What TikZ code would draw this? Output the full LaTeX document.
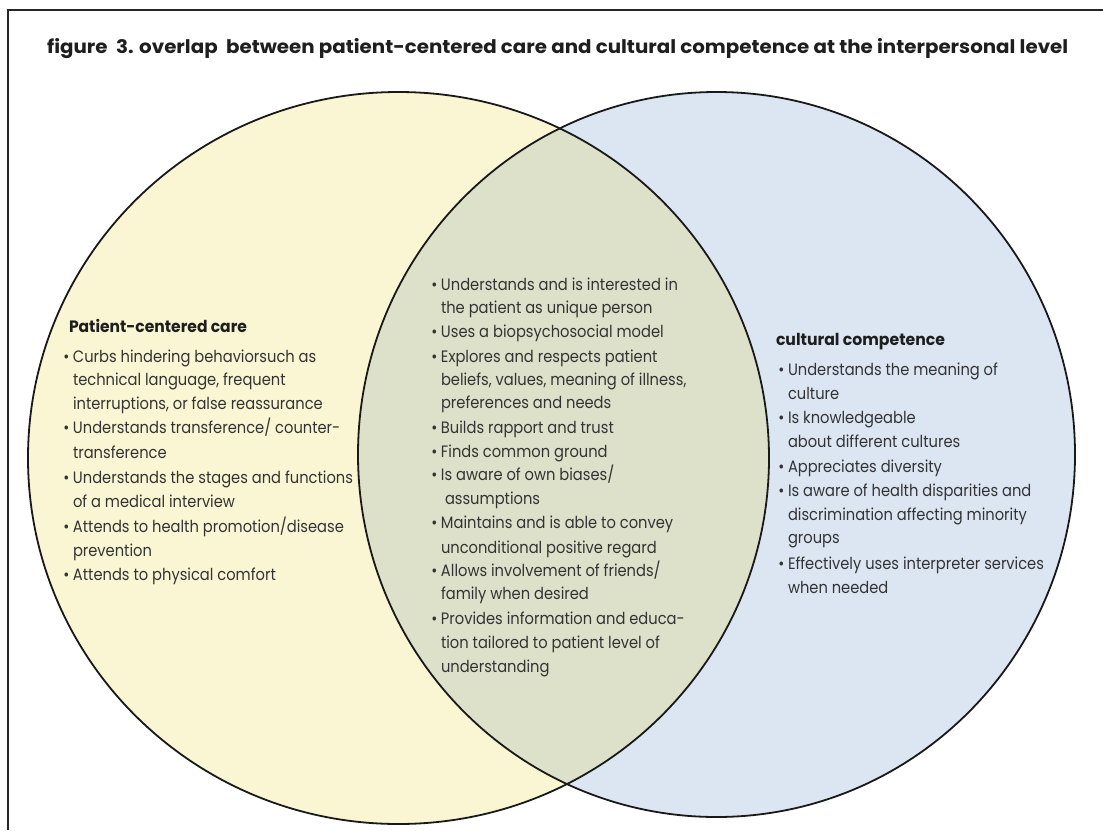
\documentclass[tikz,border=0pt]{standalone}
\usepackage{fontspec}
\setmainfont{Poppins}
\usepackage{graphicx}
\definecolor{pccfill}{HTML}{FAF6D3}
\definecolor{ccfill}{HTML}{DCE6F3}
\definecolor{lensfill}{HTML}{DDE1CA}
\definecolor{textgray}{HTML}{333333}
\definecolor{titlegray}{HTML}{1E1E1E}
\newcommand\bodyfont{\fontsize{16.5}{24}\selectfont}
\newcommand\bul{\llap{\textbullet\hspace{4pt}}}
\newlength\reflen
\newcommand\bodyline[1]{\scalebox{\sx}[1]{#1}}
\begin{document}
\settowidth{\reflen}{\bodyfont Effectively uses interpreter services}%
\pgfmathsetmacro\sx{256/\reflen}%
\begin{tikzpicture}[x=1pt,y=-1pt,
  txt/.style={anchor=base west, inner sep=0pt, outer sep=0pt, text=textgray, font=\bodyfont},
  head/.style={anchor=base west, inner sep=0pt, outer sep=0pt, text=titlegray, font=\bodyfont\bfseries},
  outline/.style={draw=black!90, line width=1.8pt},
  frameline/.style={draw=black!85, line width=2pt}]
\useasboundingbox (0,0) rectangle (1103,830);
% frame
\coordinate (f1) at (8,830);
\coordinate (f2) at (8,10);
\coordinate (f3) at (1103,10);
\draw[frameline] (f1) -- (f2) -- (f3);
% ellipses
\coordinate (lc) at (398.5,458);
\coordinate (rc) at (716.5,454.5);
\fill[pccfill] (lc) ellipse [x radius=370.5, y radius=366];
\fill[ccfill] (rc) ellipse [x radius=358.5, y radius=362.5];
\begin{scope}
\clip (lc) ellipse [x radius=370.5, y radius=366];
\fill[lensfill] (rc) ellipse [x radius=358.5, y radius=362.5];
\end{scope}
\draw[outline] (lc) ellipse [x radius=370.5, y radius=366];
\draw[outline] (rc) ellipse [x radius=358.5, y radius=362.5];
% title
\node[anchor=base west, inner sep=0pt, text=titlegray] (title) at (47,53)
  {\resizebox{1021pt}{15pt}{\bfseries figure\ \ 3. overlap\ \ between patient-centered care and cultural competence at the interpersonal level}};
% left
\node[head] (lh) at (69,332) {\resizebox{178pt}{\height}{Patient-centered care}};
\foreach \t/\yy [count=\i] in {
  {\bul Curbs hindering behaviorsuch as}/362,
  {technical language, frequent}/385,
  {interruptions, or false reassurance}/409,
  {\bul Understands transference/ counter-}/433,
  {transference}/458,
  {\bul Understands the stages and functions}/483,
  {of a medical interview}/507,
  {\bul Attends to health promotion/disease}/532,
  {prevention}/556,
  {\bul Attends to physical comfort}/580}
  \node[txt] (L\i) at (73,\yy) {\bodyline{\t}};
% middle
\foreach \t/\xx/\yy [count=\i] in {
  {\bul Understands and is interested in}/441/290,
  {the patient as unique person}/441/313,
  {\bul Uses a biopsychosocial model}/441/337,
  {\bul Explores and respects patient}/441/362,
  {beliefs, values, meaning of illness,}/441/385,
  {preferences and needs}/441/408,
  {\bul Builds rapport and trust}/441/433,
  {\bul Finds common ground}/441/457,
  {\bul Is aware of own biases/}/441/480,
  {assumptions}/445/504,
  {\bul Maintains and is able to convey}/441/528,
  {unconditional positive regard}/441/553,
  {\bul Allows involvement of friends/}/441/576,
  {family when desired}/441/599,
  {\bul Provides information and educa-}/441/624,
  {tion tailored to patient level of}/441/648,
  {understanding}/441/672}
  \node[txt] (M\i) at (\xx,\yy) {\bodyline{\t}};
% right
\node[head] (rh) at (776,345) {\resizebox{169pt}{\height}{cultural competence}};
\foreach \t/\yy [count=\i] in {
  {\bul Understands the meaning of}/375,
  {culture}/399,
  {\bul Is knowledgeable}/423,
  {about different cultures}/447,
  {\bul Appreciates diversity}/472,
  {\bul Is aware of health disparities and}/496,
  {discrimination affecting minority}/520,
  {groups}/543,
  {\bul Effectively uses interpreter services}/569,
  {when needed}/593}
  \node[txt] (R\i) at (788,\yy) {\bodyline{\t}};
\end{tikzpicture}
\end{document}
